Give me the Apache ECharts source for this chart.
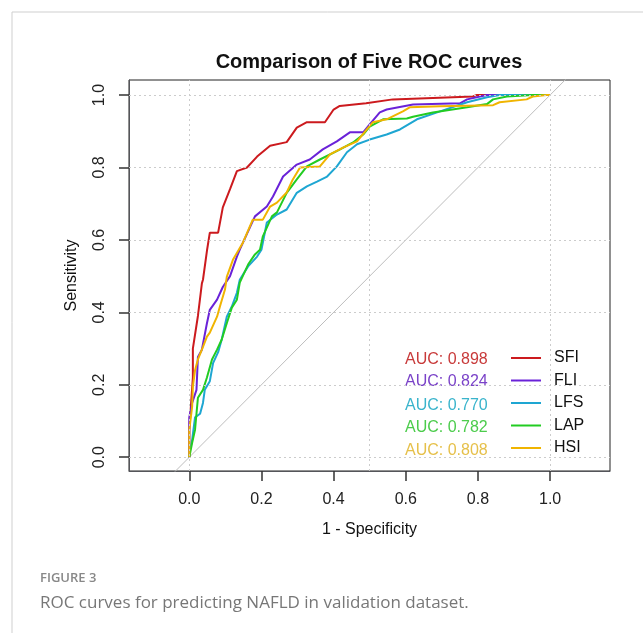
<!DOCTYPE html>
<html>
<head>
<meta charset="utf-8">
<script src="https://cdn.jsdelivr.net/npm/echarts@6/dist/echarts.min.js"></script>
<style>
  html, body { margin: 0; padding: 0; background: #fff; }
  #chart { width: 643px; height: 633px; }
</style>
</head>
<body>
<div id="chart"></div>
<script>
// curve names, colours and AUC values
let names = ["SFI", "FLI", "LFS", "LAP", "HSI"];
let aucValues = ["0.898", "0.824", "0.770", "0.782", "0.808"];
let lineColors = ["#cc1a1e", "#6a22d8", "#1ea6d2", "#22cc22", "#f0b400"];
let aucColors = ["#c83a3a", "#7a42c8", "#3ab4cc", "#4ccc4c", "#e6c04a"];

let xTicks = [0, 0.2, 0.4, 0.6, 0.8, 1.0];
let yTicks = [0, 0.2, 0.4, 0.6, 0.8, 1.0];
let xGridValues = [0, 0.5, 1.0];

// [1 - specificity, sensitivity]
let sfiPoints = [
  [0, 0], [0, 0.075], [0.01, 0.22], [0.01, 0.3], [0.024, 0.39], [0.035, 0.48],
  [0.038, 0.49], [0.049, 0.57], [0.057, 0.62], [0.08, 0.62], [0.093, 0.69],
  [0.113, 0.74], [0.132, 0.79], [0.16, 0.8], [0.188, 0.83], [0.224, 0.86],
  [0.27, 0.87], [0.298, 0.91], [0.326, 0.925], [0.376, 0.925], [0.4, 0.96],
  [0.417, 0.97], [0.49, 0.977], [0.564, 0.988], [0.786, 0.996], [0.797, 1.0],
  [1, 1],
];
let fliPoints = [
  [0, 0], [0, 0.11], [0.008, 0.15], [0.02, 0.186], [0.024, 0.277], [0.035, 0.297],
  [0.049, 0.37], [0.057, 0.407], [0.077, 0.435], [0.093, 0.47], [0.113, 0.5],
  [0.132, 0.554], [0.14, 0.573], [0.182, 0.665], [0.215, 0.692], [0.232, 0.72],
  [0.26, 0.775], [0.298, 0.808], [0.334, 0.822], [0.37, 0.85], [0.409, 0.872],
  [0.445, 0.897], [0.482, 0.897], [0.5, 0.919], [0.528, 0.952], [0.547, 0.96],
  [0.62, 0.974], [0.75, 0.977], [0.77, 0.988], [0.825, 1.0], [1, 1],
];
let lfsPoints = [
  [0, 0], [0.002, 0.02], [0.008, 0.048], [0.016, 0.11], [0.03, 0.12], [0.038, 0.15],
  [0.043, 0.186], [0.057, 0.21], [0.066, 0.26], [0.08, 0.29], [0.09, 0.325],
  [0.104, 0.388], [0.118, 0.416], [0.132, 0.454], [0.14, 0.49], [0.163, 0.527],
  [0.188, 0.554], [0.2, 0.573], [0.215, 0.648], [0.243, 0.67], [0.27, 0.684],
  [0.298, 0.73], [0.326, 0.748], [0.354, 0.761], [0.382, 0.775], [0.409, 0.803],
  [0.437, 0.842], [0.465, 0.864], [0.5, 0.877], [0.547, 0.891], [0.584, 0.905],
  [0.631, 0.933], [0.695, 0.955], [0.77, 0.98], [0.825, 0.994], [0.86, 1.0], [1, 1],
];
let lapPoints = [
  [0, 0], [0.008, 0.04], [0.016, 0.076], [0.02, 0.12], [0.024, 0.164], [0.038, 0.186],
  [0.049, 0.22], [0.063, 0.27], [0.077, 0.297], [0.09, 0.325], [0.104, 0.37],
  [0.118, 0.413], [0.132, 0.435], [0.14, 0.482], [0.163, 0.532], [0.182, 0.56],
  [0.196, 0.573], [0.204, 0.61], [0.229, 0.665], [0.243, 0.676], [0.27, 0.73],
  [0.298, 0.767], [0.326, 0.803], [0.362, 0.822], [0.418, 0.85], [0.454, 0.869],
  [0.482, 0.891], [0.5, 0.913], [0.537, 0.933], [0.603, 0.935], [0.62, 0.94],
  [0.675, 0.952], [0.77, 0.966], [0.825, 0.975], [0.842, 0.988], [0.88, 0.996],
  [0.952, 1.0], [1, 1],
];
let hsiPoints = [
  [0, 0], [0, 0.075], [0.008, 0.14], [0.01, 0.195], [0.016, 0.24], [0.024, 0.27],
  [0.038, 0.305], [0.049, 0.333], [0.057, 0.344], [0.077, 0.388], [0.085, 0.416],
  [0.099, 0.463], [0.104, 0.498], [0.121, 0.545], [0.149, 0.593], [0.176, 0.656],
  [0.204, 0.656], [0.224, 0.692], [0.243, 0.703], [0.27, 0.731], [0.287, 0.767],
  [0.307, 0.8], [0.362, 0.803], [0.39, 0.836], [0.426, 0.855], [0.465, 0.872],
  [0.492, 0.905], [0.509, 0.925], [0.547, 0.933], [0.592, 0.955], [0.611, 0.966],
  [0.695, 0.969], [0.842, 0.972], [0.86, 0.98], [0.935, 0.988], [0.952, 0.996],
  [0.99, 1.0], [1, 1],
];
let curves = [sfiPoints, fliPoints, lfsPoints, lapPoints, hsiPoints];

let font = "'Liberation Sans', Arial, sans-serif";
let chart = echarts.init(document.getElementById("chart"));

let series = [
  {
    // reference diagonal, also carries the dotted grid lines
    type: "line",
    data: [[-0.1, -0.1], [1.2, 1.2]],
    symbol: "none",
    silent: true,
    lineStyle: { color: "#bdbdbd", width: 1 },
    markLine: {
      silent: true,
      symbol: "none",
      label: { show: false },
      lineStyle: { color: "#cccccc", type: [2, 3], width: 1 },
      data: yTicks.map((v) => ({ yAxis: v })).concat(xGridValues.map((v) => ({ xAxis: v }))),
    },
  },
];
curves.forEach(function (pts, i) {
  series.push({
    name: names[i],
    type: "line",
    data: pts,
    symbol: "none",
    lineStyle: { color: lineColors[i], width: 2 },
    itemStyle: { color: lineColors[i] },
  });
});

let graphics = [
  { type: "line", shape: { x1: 12, y1: 12, x2: 643, y2: 12 }, style: { stroke: "#cfcfcf", lineWidth: 1 } },
  { type: "line", shape: { x1: 12, y1: 12, x2: 12, y2: 633 }, style: { stroke: "#cfcfcf", lineWidth: 1 } },
  {
    type: "text", x: 369, y: 62,
    style: { text: "Comparison of Five ROC curves", font: "bold 20px " + font, fill: "#111", align: "center", verticalAlign: "middle" },
  },
  {
    type: "text", x: 40, y: 578,
    style: { text: "FIGURE 3", font: "600 13px 'Open Sans', sans-serif", fill: "#888", verticalAlign: "middle" },
  },
  {
    type: "text", x: 40, y: 603,
    style: { text: "ROC curves for predicting NAFLD in validation dataset.", font: "17px 'Open Sans', sans-serif", fill: "#777", verticalAlign: "middle" },
  },
];
let rowY = [360, 382, 406, 428, 451];
aucValues.forEach(function (v, i) {
  graphics.push({
    type: "text", x: 405, y: rowY[i],
    style: { text: "AUC: " + v, font: "16px " + font, fill: aucColors[i], verticalAlign: "middle" },
  });
});

let option = {
  animation: false,
  grid: {
    left: 129, right: 33, top: 80, bottom: 162,
    show: true, borderColor: "#222",
  },
  graphic: graphics,
  legend: {
    data: names.map((n, i) => ({ name: n, icon: "rect", itemStyle: { color: lineColors[i] } })),
    orient: "vertical",
    left: 511, top: 350,
    padding: 0,
    itemWidth: 30, itemHeight: 2, itemGap: 6.5,
    textStyle: { fontFamily: font, fontSize: 16, color: "#111", padding: [0, 0, 0, 8] },
  },
  xAxis: {
    type: "value",
    min: -0.167, max: 1.166,
    name: "1 - Specificity",
    nameLocation: "middle",
    nameGap: 51,
    nameTextStyle: { fontFamily: font, fontSize: 16, color: "#111" },
    axisLine: { show: true, onZero: false },
    splitLine: { show: false },
    axisTick: { show: true, inside: false, length: 10, customValues: xTicks, lineStyle: { color: "#333", width: 1.5 } },
    axisLabel: {
      customValues: xTicks, margin: 21,
      fontFamily: font, fontSize: 16, color: "#222",
      formatter: (v) => v.toFixed(1),
    },
  },
  yAxis: {
    type: "value",
    min: -0.038, max: 1.0415,
    name: "Sensitivity",
    nameLocation: "middle",
    nameGap: 49,
    nameTextStyle: { fontFamily: font, fontSize: 16, color: "#111" },
    axisLine: { show: true, onZero: false },
    splitLine: { show: false },
    axisTick: { show: true, inside: false, length: 10, customValues: yTicks, lineStyle: { color: "#333", width: 1.5 } },
    axisLabel: {
      customValues: yTicks, margin: 21, rotate: 90,
      fontFamily: font, fontSize: 16, color: "#222",
      formatter: (v) => v.toFixed(1),
    },
  },
  series: series,
};
chart.setOption(option);
</script>
</body>
</html>
